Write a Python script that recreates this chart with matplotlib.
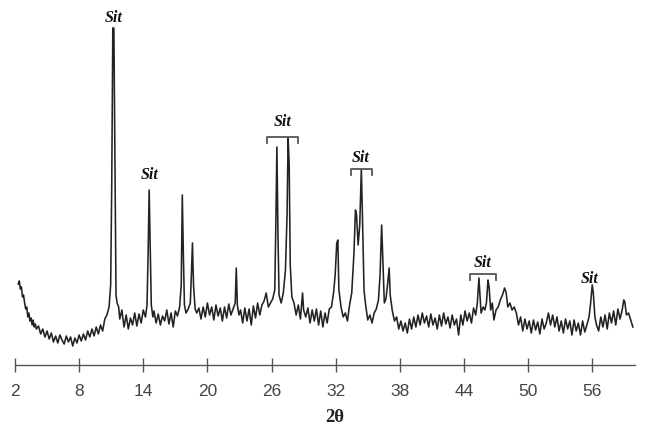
import matplotlib
matplotlib.use("Agg")
import matplotlib.pyplot as plt

two_theta = [
    2.3, 2.4, 2.5, 2.6, 2.7, 2.8, 2.9, 3.0, 3.1, 3.2, 3.3, 3.4, 3.5, 3.6, 3.7, 3.8, 3.9, 4.0,
    4.2, 4.4, 4.6, 4.8, 5.0, 5.2, 5.4, 5.6, 5.8, 6.0, 6.2, 6.4, 6.6, 6.8, 7.0, 7.2, 7.4, 7.6,
    7.8, 8.0, 8.2, 8.4, 8.6, 8.8, 9.0, 9.2, 9.4, 9.6, 9.8, 10.0, 10.2, 10.4, 10.6, 10.8,
    10.95, 11.05, 11.15, 11.25, 11.35, 11.45, 11.55, 11.7, 11.8, 12.0, 12.2, 12.4, 12.6,
    12.8, 13.0, 13.2, 13.4, 13.6, 13.8, 14.0, 14.2, 14.35, 14.45, 14.55, 14.65, 14.75,
    14.9, 15.0, 15.2, 15.4, 15.6, 15.8, 16.0, 16.2, 16.4, 16.6, 16.8, 17.0, 17.2, 17.4,
    17.55, 17.65, 17.75, 17.85, 18.0, 18.2, 18.4, 18.5, 18.6, 18.7, 18.85, 19.0, 19.2,
    19.4, 19.6, 19.8, 20.0, 20.2, 20.4, 20.6, 20.8, 21.0, 21.2, 21.4, 21.6, 21.8, 22.0,
    22.2, 22.4, 22.6, 22.7, 22.8, 22.95, 23.1, 23.3, 23.5, 23.7, 23.9, 24.1, 24.3, 24.5,
    24.7, 24.9, 25.1, 25.3, 25.5, 25.7, 25.9, 26.1, 26.3, 26.4, 26.5, 26.6, 26.7, 26.9,
    27.1, 27.3, 27.45, 27.55, 27.65, 27.75, 27.9, 28.1, 28.3, 28.5, 28.7, 28.9, 29.0,
    29.2, 29.4, 29.6, 29.8, 30.0, 30.2, 30.4, 30.6, 30.8, 31.0, 31.2, 31.4, 31.6, 31.8,
    31.95, 32.1, 32.2, 32.3, 32.5, 32.7, 32.9, 33.1, 33.3, 33.5, 33.7, 33.85, 33.95, 34.1,
    34.25, 34.4, 34.5, 34.65, 34.8, 35.0, 35.2, 35.4, 35.6, 35.8, 36.0, 36.15, 36.3, 36.4,
    36.55, 36.7, 36.85, 37.0, 37.1, 37.3, 37.5, 37.7, 37.9, 38.1, 38.3, 38.5, 38.7, 38.9,
    39.1, 39.3, 39.5, 39.7, 39.9, 40.1, 40.3, 40.5, 40.7, 40.9, 41.1, 41.3, 41.5, 41.7,
    41.9, 42.1, 42.3, 42.5, 42.7, 42.9, 43.1, 43.3, 43.5, 43.7, 43.9, 44.1, 44.3, 44.5,
    44.7, 44.9, 45.1, 45.25, 45.4, 45.5, 45.6, 45.8, 45.95, 46.1, 46.25, 46.35, 46.5,
    46.65, 46.8, 47.0, 47.2, 47.4, 47.6, 47.8, 47.95, 48.1, 48.3, 48.5, 48.7, 48.9, 49.1,
    49.3, 49.5, 49.7, 49.9, 50.1, 50.3, 50.5, 50.7, 50.9, 51.1, 51.3, 51.5, 51.7, 51.9,
    52.1, 52.3, 52.5, 52.7, 52.9, 53.1, 53.3, 53.5, 53.7, 53.9, 54.1, 54.3, 54.5, 54.7,
    54.9, 55.1, 55.3, 55.5, 55.7, 55.85, 56.0, 56.1, 56.25, 56.4, 56.6, 56.8, 57.0, 57.2,
    57.4, 57.6, 57.8, 58.0, 58.2, 58.4, 58.6, 58.8, 58.95, 59.05, 59.2, 59.4, 59.6, 59.8,
]
intensity = [
    81, 84, 76, 78, 68, 70, 62, 56, 58, 48, 52, 44, 47, 40, 45, 38, 41, 36,
    39, 31, 36, 28, 34, 26, 32, 23, 29, 22, 30, 25, 21, 29, 23, 28, 19, 27,
    22, 30, 24, 31, 25, 34, 28, 36, 29, 38, 31, 40, 34, 46, 50, 58,
    80, 180, 337, 337, 200, 70, 62, 58, 46, 55, 38, 50, 36,
    47, 40, 52, 39, 51, 42, 55, 48, 60, 110, 175, 120, 60,
    48, 54, 42, 51, 40, 49, 44, 55, 41, 52, 38, 54, 49, 58,
    80, 170, 110, 60, 52, 56, 62, 90, 122, 80, 56, 52, 57,
    46, 58, 48, 62, 50, 58, 45, 60, 49, 57, 44, 58, 47, 61,
    50, 56, 62, 97, 60, 50, 55, 42, 57, 44, 56, 40, 59, 47,
    62, 50, 60, 64, 72, 58, 62, 66, 75, 140, 218, 130, 70, 62,
    72, 95, 150, 227, 200, 100, 68, 62, 50, 60, 46, 72, 55,
    48, 57, 42, 55, 44, 56, 40, 54, 38, 52, 42, 56, 58, 72,
    90, 122, 125, 75, 58, 48, 52, 44, 60, 72, 110, 155, 150, 120,
    140, 196, 150, 75, 60, 45, 50, 42, 52, 56, 65, 90, 140, 110,
    62, 66, 80, 97, 70, 54, 44, 48, 36, 44, 34, 42, 32, 46,
    36, 48, 38, 50, 40, 52, 42, 49, 38, 51, 40, 47, 36, 50,
    39, 52, 41, 48, 37, 50, 40, 46, 30, 50, 40, 54, 44, 52,
    42, 57, 50, 62, 87, 70, 52, 58, 55, 62, 85, 78, 55,
    62, 45, 55, 58, 65, 70, 77, 72, 58, 62, 55, 58, 52, 40,
    48, 34, 46, 36, 44, 32, 45, 35, 43, 31, 46, 36, 42, 52,
    40, 50, 38, 48, 34, 44, 32, 46, 36, 44, 30, 45, 34, 42,
    30, 44, 33, 40, 48, 62, 80, 72, 48, 40, 34, 48, 38, 50,
    36, 52, 42, 54, 40, 56, 46, 55, 65, 63, 50, 52, 45, 38,
]

tick_values = [2, 8, 14, 20, 26, 32, 38, 44, 50, 56]
tick_labels = ["2", "8", "14", "20", "26", "32", "38", "44", "50", "56"]

# phase labels: (x, y) in data units
label_text = "Sit"
label_x = [11.2, 14.6, 27.05, 34.35, 45.75, 55.8]
label_y = [347, 190, 243, 207, 102, 86]
# brackets grouping peaks: start, end, level
bracket_start = [25.55, 33.4, 44.6]
bracket_end = [28.45, 35.35, 46.95]
bracket_level = [228, 196, 91]

W, H = 651, 432
fig = plt.figure(figsize=(W / 100, H / 100), dpi=100)
ax = fig.add_axes([15 / W, (H - 365) / H, 620 / W, 365 / H])
ax.plot(two_theta, intensity, color="#222222", lw=1.15)
ax.set_xlim(2, 60)
ax.set_ylim(0, 365)

for s in ["top", "right", "left"]:
    ax.spines[s].set_visible(False)
ax.spines["bottom"].set_color("#555555")
ax.spines["bottom"].set_linewidth(1.0)
ax.set_yticks([])
ax.set_xticks(tick_values)
ax.set_xticklabels(tick_labels, fontsize=12.5, color="#444444", family="Liberation Sans")
ax.tick_params(axis="x", direction="inout", length=10, width=1.0, color="#555555", pad=9)

for x, y in zip(label_x, label_y):
    ax.text(x, y, label_text, ha="center", va="center", fontsize=11.5,
            fontweight="bold", fontstyle="italic", family="Liberation Serif", color="#111111")

for s, e, lv in zip(bracket_start, bracket_end, bracket_level):
    ax.plot([s, s, e, e], [lv - 6, lv, lv, lv - 6], color="#555555", lw=1.3)

fig.text(335 / W, 1 - 418 / H, "2θ", ha="center", va="center", fontsize=13.5,
         fontweight="bold", family="Liberation Serif", color="#222222")

fig.savefig("out.png", dpi=100, facecolor="white")
